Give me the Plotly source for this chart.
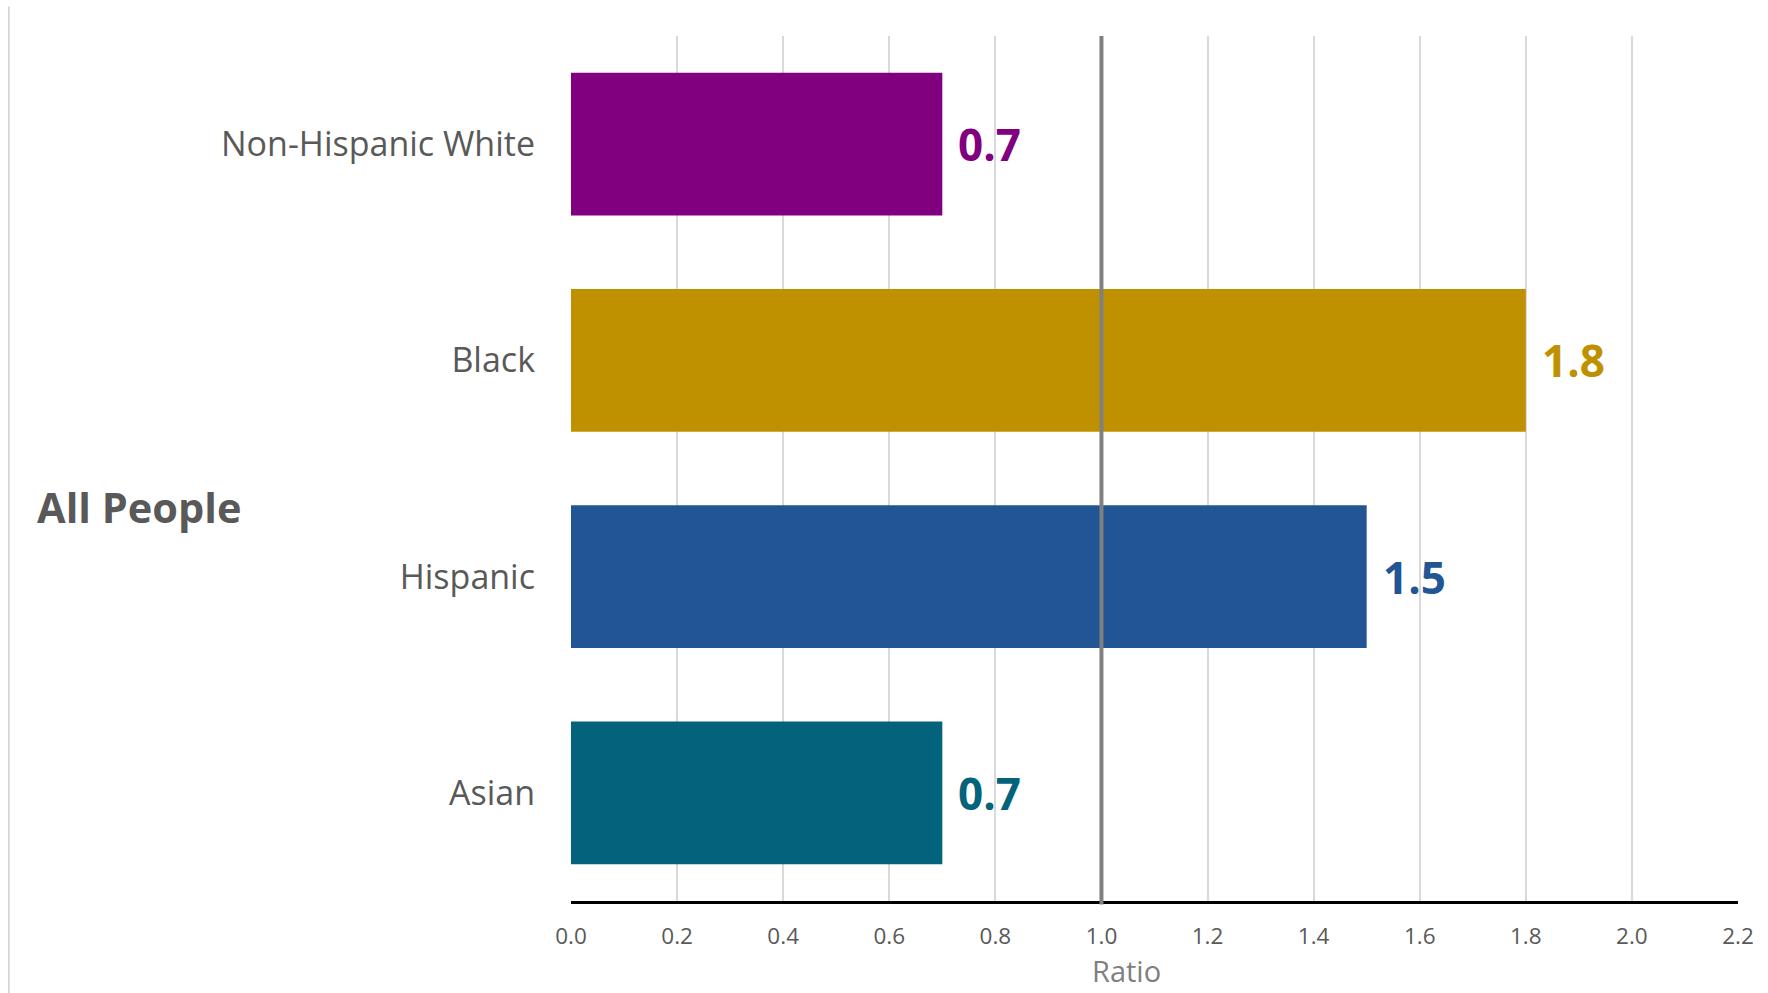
import plotly.graph_objects as go

# Ratio by group
groups = ["Non-Hispanic White", "Black", "Hispanic", "Asian"]
ratios = [0.7, 1.8, 1.5, 0.7]
bar_colors = ["#800080", "#BF9000", "#215594", "#03627C"]
x_ticks = [0.0, 0.2, 0.4, 0.6, 0.8, 1.0, 1.2, 1.4, 1.6, 1.8, 2.0, 2.2]
x_tick_labels = ["0.0", "0.2", "0.4", "0.6", "0.8", "1.0", "1.2", "1.4", "1.6", "1.8", "2.0", "2.2"]
reference_ratio = 1.0
panel_label = "All People"
x_title = "Ratio"

FONT = "Open Sans"

fig = go.Figure()
fig.add_trace(go.Bar(
    y=groups,
    x=ratios,
    orientation="h",
    marker=dict(color=bar_colors, line=dict(width=0)),
    hoverinfo="skip",
))

# value labels just past the end of each bar
for g, v, c in zip(groups, ratios, bar_colors):
    fig.add_annotation(x=v, y=g, xref="x", yref="y",
                       text=f"{v:.1f}", showarrow=False,
                       xanchor="left", yanchor="middle", xshift=14,
                       font=dict(family=FONT, size=44, color=c, weight="bold"))

# reference line at ratio = 1
fig.add_shape(type="line", xref="x", yref="paper",
              x0=reference_ratio, x1=reference_ratio, y0=-0.004, y1=1,
              line=dict(color="#808080", width=4), layer="above")

# thin frame line on the left
fig.add_shape(type="line", xref="paper", yref="paper",
              x0=-0.4817, x1=-0.4817, y0=-0.11, y1=1.034,
              line=dict(color="#cfcfcf", width=1.5))

fig.add_annotation(text=panel_label, xref="paper", yref="paper",
                   x=-0.459, y=0.455, xanchor="left", yanchor="middle",
                   showarrow=False,
                   font=dict(family=FONT, size=41.5, color="#595959", weight="bold"))

# x-axis title, kept inside the bottom edge
fig.add_annotation(text=x_title, xref="paper", yref="paper",
                   x=0.476, y=-0.104, xanchor="center", yanchor="bottom",
                   showarrow=False, borderpad=0,
                   font=dict(family=FONT, size=29, color="#7f7f7f"))

fig.update_layout(
    width=1768, height=993,
    margin=dict(l=571, r=30, t=36, b=92, autoexpand=False),
    paper_bgcolor="white", plot_bgcolor="white",
    showlegend=False,
    bargap=0.34,
    xaxis=dict(
        range=[0, 2.2],
        automargin=False,
        tickvals=x_ticks, ticktext=x_tick_labels,
        showgrid=True, gridcolor="#d9d9d9", gridwidth=1.5,
        zeroline=False,
        showline=True, linecolor="#000000", linewidth=2.5,
        ticks="", ticklabelstandoff=13,
        tickfont=dict(family=FONT, size=22.5, color="#595959"),
    ),
    yaxis=dict(
        automargin=False,
        categoryorder="array", categoryarray=groups[::-1],
        showgrid=False, zeroline=False, showline=False,
        ticks="", ticklabelstandoff=35,
        tickfont=dict(family=FONT, size=34, color="#595959"),
    ),
)

fig.write_html("out.html")
